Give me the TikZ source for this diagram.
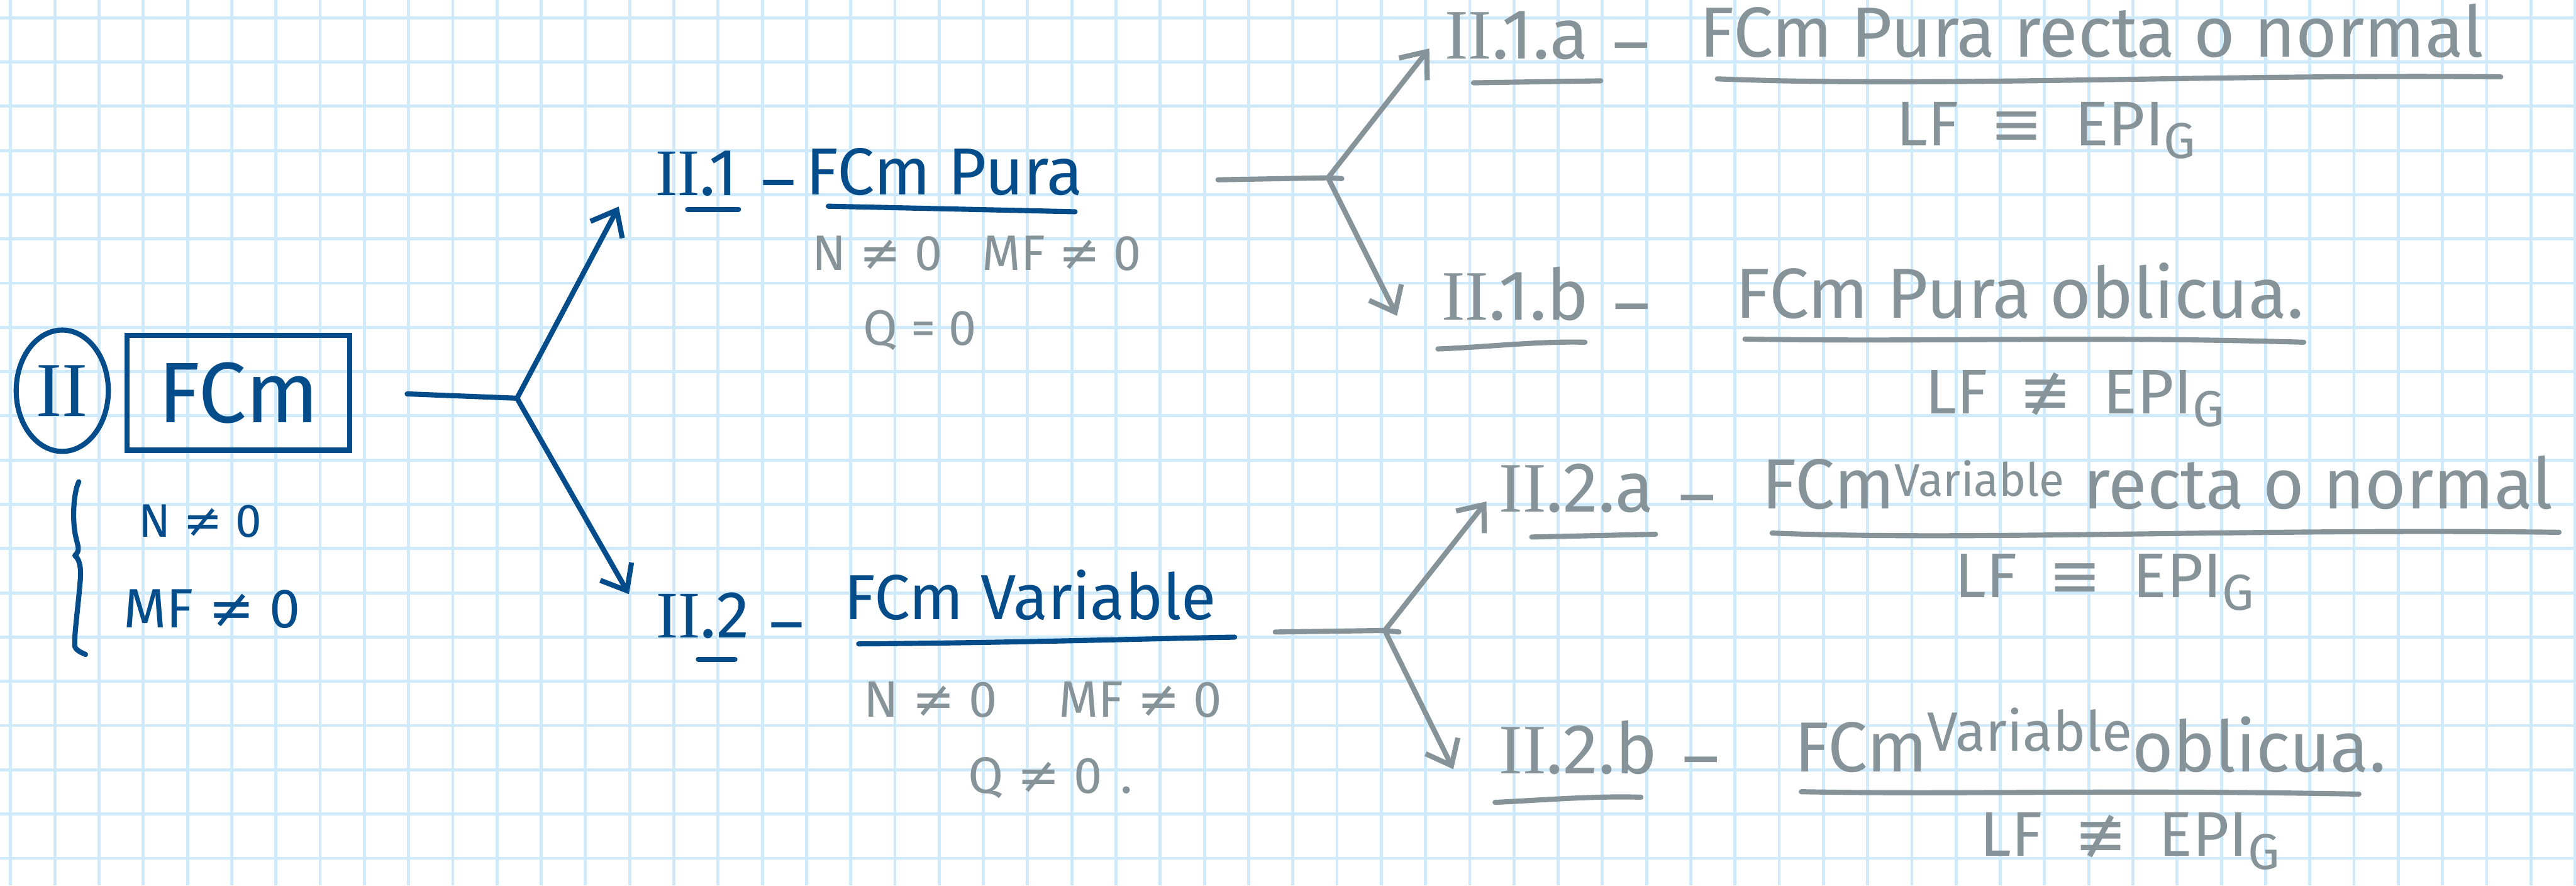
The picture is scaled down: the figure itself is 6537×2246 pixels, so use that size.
\documentclass[tikz,border=0pt]{standalone}
\usepackage{fontspec}
\setmainfont{Fira Sans}
\newfontfamily\romanf{Liberation Serif}
\newfontfamily\symf{DejaVu Sans}
\usetikzlibrary{arrows.meta,shapes.geometric}

\definecolor{inkblue}{RGB}{4,76,138}
\definecolor{inkgray}{RGB}{134,148,154}
\definecolor{gridblue}{RGB}{207,234,251}

% Roman numerals, relation signs and the subscript G
\newcommand\RN[1]{{\romanf #1}}
\newcommand\neqs{{\symf ≠}}
\newcommand\eqvs{{\symf ≡}}
\newcommand\neqvs{{\symf ≢}}
\newcommand\subG{\raisebox{-0.2em}{\scalebox{0.8}{G}}}
\newcommand\fpt[1]{\fontsize{#1pt}{#1pt}\selectfont}

\tikzset{
  gridline/.style={draw=gridblue, line width=1.1pt},
  blueline/.style={draw=inkblue, line width=1.85pt, line cap=round, line join=round},
  grayline/.style={draw=inkgray, line width=1.85pt, line cap=round, line join=round},
  barb/.style={-{Straight Barb[length=8pt,width=13pt]}},
  txt/.style={inner sep=0pt, anchor=base west},
  bluetxt/.style={txt, text=inkblue},
  graytxt/.style={txt, text=inkgray},
}

\begin{document}
\begin{tikzpicture}[x=0.005cm, y=-0.005cm]
  % paper and squared grid
  \fill[white] (0,0) rectangle (6537,2246);
  \useasboundingbox (0,0) rectangle (6537,2246);
  \foreach \k in {0,...,58} \draw[gridline] ({27+112.2*\k},0) -- ({27+112.2*\k},2246);
  \foreach \k in {0,...,19} \draw[gridline] (0,{45+112.2*\k}) -- (6537,{45+112.2*\k});

  % ---- root: II  FCm ----
  \node[ellipse, draw=inkblue, line width=1.85pt, minimum width=1.17cm,
        minimum height=1.54cm, inner sep=0pt, text=inkblue] (root) at (158,991) {\fpt{28}\RN{II}};
  \node[draw=inkblue, line width=1.85pt, minimum width=2.83cm, minimum height=1.46cm,
        inner sep=0pt, text=inkblue] (rootbox) at (605,996) {\fpt{31}FCm};
  \draw[blueline] (200,1222) .. controls (186,1250) and (183,1320) .. (192,1360)
        .. controls (197,1385) and (205,1395) .. (190,1409)
        .. controls (205,1420) and (206,1450) .. (203,1480)
        .. controls (196,1560) and (188,1610) .. (190,1640)
        .. controls (195,1652) and (208,1655) .. (217,1660);
  \node[bluetxt] (rootN) at (351,1362) {\fpt{17}N \neqs{} 0};
  \node[bluetxt] (rootM) at (312,1592) {\fpt{20}MF \neqs{} 0};

  % ---- branches from the root ----
  \coordinate (j0) at (1312,1010);
  \coordinate (tipA) at (1570,524);
  \coordinate (tipB) at (1596,1507);
  \draw[blueline] ([shift={(139,3)}]rootbox.east) -- (j0);
  \draw[blueline, barb] (j0) -- (tipA);
  \draw[blueline, barb] (j0) -- (tipB);

  % ---- II.1 ----
  \node[bluetxt] (n1) at (1662,496) {\fpt{24}\RN{II}.1\hspace{0.35em}\raisebox{-0.12em}{–}};
  \node[bluetxt] (t1) at (2044,494) {\fpt{24}FCm Pura};
  \draw[blueline] (1745,531) -- (1874,531);
  \draw[blueline] (2102,523) -- (2728,537);
  \node[graytxt] (c1) at (2060,686) {\fpt{18}N \neqs{} 0\hspace{0.8em}MF \neqs{} 0};
  \node[graytxt] (q1) at (2189,876) {\fpt{18}Q = 0};

  % ---- II.2 ----
  \node[bluetxt] (n2) at (1664,1618) {\fpt{24}\RN{II}.2\hspace{0.3em}\raisebox{-0.12em}{–}};
  \node[bluetxt] (t2) at (2141,1572) {\fpt{23}FCm Variable};
  \draw[blueline] (1772,1672) -- (1865,1672);
  \draw[blueline] (2179,1633) .. controls (2600,1630) and (2900,1620) .. (3133,1616);
  \node[graytxt] (c2) at (2190,1818) {\fpt{18.5}N \neqs{} 0\hspace{1.2em}MF \neqs{} 0};
  \node[graytxt] (q2) at (2456,2011) {\fpt{18.5}Q \neqs{} 0\hspace{0.35em}.};

  % ---- branches from II.1 ----
  \coordinate (s1) at (3091,456);
  \coordinate (j1) at (3370,451);
  \coordinate (tipC) at (3627,123);
  \coordinate (tipD) at (3545,801);
  \draw[grayline] (s1) -- (j1) -- ++(35,2);
  \draw[grayline, barb] (j1) -- (tipC);
  \draw[grayline, barb] (j1) -- (tipD);

  % ---- branches from II.2 ----
  \coordinate (s2) at (3236,1603);
  \coordinate (j2) at (3514,1599);
  \coordinate (tipE) at (3772,1272);
  \coordinate (tipF) at (3688,1951);
  \draw[grayline] (s2) -- (j2) -- ++(36,4);
  \draw[grayline, barb] (j2) -- (tipE);
  \draw[grayline, barb] (j2) -- (tipF);

  % ---- II.1.a ----
  \node[graytxt] (r1n) at (3665,150) {\fpt{25.6}\RN{II}.1.a\hspace{0.35em}\raisebox{-0.12em}{–}};
  \node[graytxt] (r1t) at (4312,145) {\fpt{25.6}FCm Pura recta o normal};
  \draw[grayline] (3739,210) -- (4062,205);
  \draw[grayline] (4358,200) .. controls (4900,222) and (5600,188) .. (6346,195);
  \node[graytxt] (r1l) at (4811,370) {\fpt{22.8}LF\hspace{0.5em}\eqvs\hspace{0.5em}EPI\subG};

  % ---- II.1.b ----
  \node[graytxt] (r2n) at (3657,812) {\fpt{25.6}\RN{II}.1.b\hspace{0.35em}\raisebox{-0.12em}{–}};
  \node[graytxt] (r2t) at (4403,806) {\fpt{25.6}FCm Pura oblicua.};
  \draw[grayline] (3649,885) .. controls (3780,880) and (3900,865) .. (4022,868);
  \draw[grayline] (4428,860) .. controls (4900,868) and (5300,852) .. (5846,868);
  \node[graytxt] (r2l) at (4884,1050) {\fpt{22.8}LF\hspace{0.5em}\neqvs\hspace{0.5em}EPI\subG};

  % ---- II.2.a ----
  \node[graytxt] (r3n) at (3803,1298) {\fpt{25.6}\RN{II}.2.a\hspace{0.35em}\raisebox{-0.12em}{–}};
  \node[graytxt] (r3t) at (4469,1290) {\fpt{25.6}FCm\raisebox{0.18em}{\fpt{16.6}Variable} recta o normal};
  \draw[grayline] (3887,1362) -- (4201,1355);
  \draw[grayline] (4497,1352) .. controls (5000,1372) and (5700,1340) .. (6494,1350);
  \node[graytxt] (r3l) at (4959,1515) {\fpt{22.8}LF\hspace{0.5em}\eqvs\hspace{0.5em}EPI\subG};

  % ---- II.2.b ----
  \node[graytxt] (r4n) at (3803,1962) {\fpt{25.6}\RN{II}.2.b\hspace{0.35em}\raisebox{-0.12em}{–}};
  \node[graytxt] (r4t) at (4552,1958) {\fpt{25.6}FCm\raisebox{0.3em}{\fpt{20}Variable}oblicua.};
  \draw[grayline] (3794,2035) .. controls (3900,2030) and (4050,2018) .. (4164,2022);
  \draw[grayline] (4571,2008) .. controls (5000,2016) and (5300,2002) .. (5986,2014);
  \node[graytxt] (r4l) at (5024,2172) {\fpt{22.8}LF\hspace{0.5em}\neqvs\hspace{0.5em}EPI\subG};
\end{tikzpicture}
\end{document}
